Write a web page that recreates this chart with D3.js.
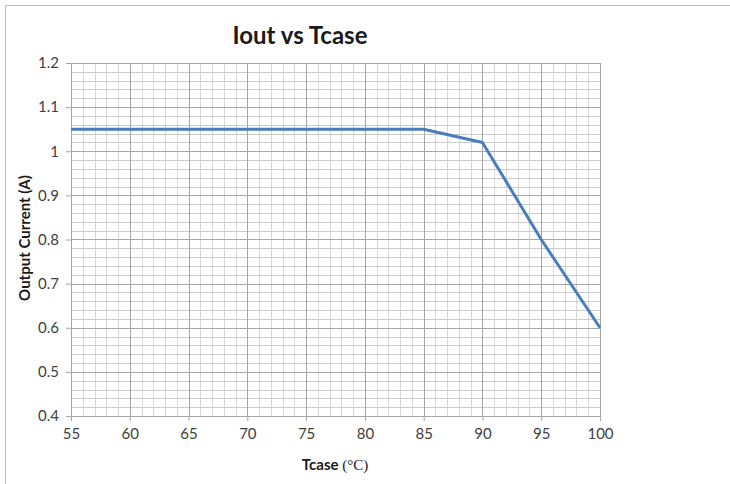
<!DOCTYPE html>
<html>
<head>
<meta charset="utf-8">
<script src="https://cdn.jsdelivr.net/npm/d3@7"></script>
<style>
  body { margin: 0; background: #fff; }
  text { font-family: Lato, "Open Sans", "Liberation Sans", sans-serif; }
</style>
</head>
<body>
<div class="chart"></div>
<script>
var tcase = [55, 85, 90, 95, 100];
var iout = [1.05, 1.05, 1.02, 0.80, 0.60];
var xTicks = [55, 60, 65, 70, 75, 80, 85, 90, 95, 100];
var yTicks = [0.4, 0.5, 0.6, 0.7, 0.8, 0.9, 1, 1.1, 1.2];

var data = tcase.map(function (t, i) { return { t: t, i: iout[i] }; });

var W = 730, H = 484;
var margin = { top: 63, right: 130, bottom: 68, left: 71 },
    width = W - margin.left - margin.right,
    height = H - margin.top - margin.bottom;

var svg = d3.select(".chart").append("svg")
    .attr("width", W)
    .attr("height", H);

// outer frame
svg.append("path")
    .attr("d", "M5.5," + H + "V5.5H" + W)
    .attr("fill", "none")
    .attr("stroke", "#bfbfbf")
    .attr("stroke-width", 1);

var g = svg.append("g")
    .attr("transform", "translate(" + margin.left + "," + margin.top + ")");

var x = d3.scaleLinear().domain([55, 100]).range([0, width]);
var y = d3.scaleLinear().domain([0.4, 1.2]).range([height, 0]);

// minor grid
var xMinor = d3.range(55, 100.5, 1);
var yMinor = d3.range(0, 41).map(function (k) { return 0.4 + k * 0.02; });

g.selectAll(".vminor").data(xMinor).enter().append("line")
    .attr("x1", function (d) { return Math.round(x(d)) + 0.5; })
    .attr("x2", function (d) { return Math.round(x(d)) + 0.5; })
    .attr("y1", 0).attr("y2", height)
    .attr("stroke", "#d6d6d6");

g.selectAll(".hminor").data(yMinor).enter().append("line")
    .attr("y1", function (d) { return Math.round(y(d)) + 0.5; })
    .attr("y2", function (d) { return Math.round(y(d)) + 0.5; })
    .attr("x1", 0).attr("x2", width)
    .attr("stroke", "#cccccc");

// major grid
g.selectAll(".vmajor").data(xTicks).enter().append("line")
    .attr("x1", function (d) { return Math.round(x(d)) + 0.5; })
    .attr("x2", function (d) { return Math.round(x(d)) + 0.5; })
    .attr("y1", 0).attr("y2", height)
    .attr("stroke", "#a6a6a6");

g.selectAll(".hmajor").data(yTicks).enter().append("line")
    .attr("y1", function (d) { return Math.round(y(d)) + 0.5; })
    .attr("y2", function (d) { return Math.round(y(d)) + 0.5; })
    .attr("x1", 0).attr("x2", width)
    .attr("stroke", "#a6a6a6");

// axes
var xAxis = g.append("g")
    .attr("transform", "translate(0," + height + ")")
    .call(d3.axisBottom(x).tickValues(xTicks).tickSize(5).tickPadding(7).tickFormat(d3.format("d")));
var yAxis = g.append("g")
    .call(d3.axisLeft(y).tickValues(yTicks).tickSize(5).tickPadding(7).tickFormat(function (d) { return d3.format("")(+d.toFixed(1)); }));

[xAxis, yAxis].forEach(function (a) {
    a.select(".domain").attr("stroke", "#a6a6a6");
    a.selectAll(".tick line").attr("stroke", "#a6a6a6");
    a.selectAll("text")
        .attr("fill", "#404040")
        .style("font-size", "15px")
        .style("font-family", "Lato, 'Open Sans', 'Liberation Sans', sans-serif");
});

// line
var line = d3.line()
    .x(function (d) { return x(d.t); })
    .y(function (d) { return y(d.i); });

g.append("path")
    .datum(data)
    .attr("fill", "none")
    .attr("stroke", "#4a7ebb")
    .attr("stroke-width", 3)
    .attr("stroke-linejoin", "round")
    .attr("d", line);

// title
svg.append("text")
    .attr("x", 300).attr("y", 44)
    .attr("text-anchor", "middle")
    .style("font-size", "24px")
    .style("font-weight", "bold")
    .attr("fill", "#1a1a1a")
    .text("Iout vs Tcase");

// y label
svg.append("text")
    .attr("transform", "translate(30,238) rotate(-90)")
    .attr("text-anchor", "middle")
    .style("font-size", "15px")
    .style("font-weight", "bold")
    .attr("fill", "#1a1a1a")
    .text("Output Current (A)");

// x label
var xl = svg.append("text")
    .attr("x", 335).attr("y", 470)
    .attr("text-anchor", "middle")
    .style("font-size", "15px")
    .attr("fill", "#1a1a1a");
xl.append("tspan").style("font-weight", "bold").text("Tcase ");
xl.append("tspan")
    .style("font-family", "'Liberation Serif', 'DejaVu Serif', serif")
    .style("font-size", "15px")
    .text("(°C)");
</script>
</body>
</html>
